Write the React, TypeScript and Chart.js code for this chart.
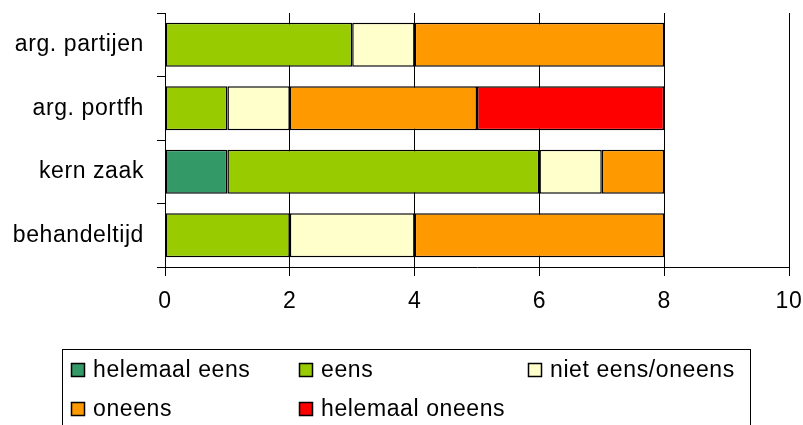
import React, { useEffect, useRef } from "react";
import { Chart, registerables } from "chart.js";

Chart.register(...registerables);

const categories = ["arg. partijen", "arg. portfh", "kern zaak", "behandeltijd"];
const seriesNames = ["helemaal eens", "eens", "niet eens/oneens", "oneens", "helemaal oneens"];
const seriesColors = ["#339966", "#99CC00", "#FFFFCC", "#FF9900", "#FF0000"];
const helemaalEens = [0, 0, 1, 0];
const eens = [3, 1, 5, 2];
const nietEensOneens = [1, 1, 1, 2];
const oneens = [4, 3, 1, 4];
const helemaalOneens = [0, 3, 0, 0];
const xTicks = [0, 2, 4, 6, 8, 10];

const FONT = "'Liberation Sans', Arial, sans-serif";
const FONT_SIZE = 23;
const LETTER_SPACING = "0.6px";

const spacingPlugin = {
  id: "spacing",
  beforeDraw(chart: any) {
    chart.ctx.letterSpacing = LETTER_SPACING;
  },
};

const legendPlugin = {
  id: "boxLegend",
  afterDraw(chart: any) {
    const ctx = chart.ctx;
    ctx.save();
    ctx.letterSpacing = LETTER_SPACING;
    ctx.strokeStyle = "#000";
    ctx.lineWidth = 1;
    ctx.strokeRect(62.5, 349.5, 688, 100);
    const cols = [71, 299, 528];
    const rows = [370, 409];
    ctx.font = `${FONT_SIZE}px ${FONT}`;
    ctx.textBaseline = "middle";
    ctx.textAlign = "left";
    chart.data.datasets.forEach((ds: any, i: number) => {
      const x = cols[i % 3];
      const y = rows[Math.floor(i / 3)];
      ctx.fillStyle = ds.backgroundColor;
      ctx.fillRect(x + 0.5, y - 6.5, 13, 13);
      ctx.strokeStyle = "#000";
      ctx.lineWidth = 1.5;
      ctx.strokeRect(x + 0.5, y - 6.5, 13, 13);
      ctx.fillStyle = "#000";
      ctx.fillText(ds.label, x + 22, y + 1);
    });
    ctx.restore();
  },
};

export default function App() {
  const ref = useRef<HTMLCanvasElement | null>(null);
  useEffect(() => {
    document.body.style.margin = "0";
    const values = [helemaalEens, eens, nietEensOneens, oneens, helemaalOneens];
    const chart = new Chart(ref.current as HTMLCanvasElement, {
      type: "bar",
      data: {
        labels: categories,
        datasets: seriesNames.map((name, i) => ({
          label: name,
          data: values[i],
          backgroundColor: seriesColors[i],
          borderColor: "#000",
          borderWidth: 1.5,
          borderSkipped: false,
          inflateAmount: 0,
          barPercentage: 0.69,
          categoryPercentage: 1,
        })),
      },
      options: {
        indexAxis: "y",
        animation: false,
        responsive: false,
        layout: { padding: { top: 13, right: 14, left: 0, bottom: 0 } },
        plugins: { legend: { display: false }, tooltip: { enabled: false } },
        scales: {
          x: {
            stacked: true,
            min: 0,
            max: 10,
            afterBuildTicks: (scale: any) => {
              scale.ticks = xTicks.map((v) => ({ value: v }));
            },
            afterFit: (scale: any) => {
              scale.height = 158;
              scale.paddingLeft = 0;
              scale.paddingRight = 0;
            },
            grid: { color: "#000", lineWidth: 1, tickLength: 9, drawOnChartArea: true },
            border: { color: "#000", width: 1 },
            ticks: { color: "#000", font: { family: FONT, size: FONT_SIZE }, padding: 12, maxRotation: 0 },
          },
          y: {
            stacked: true,
            afterFit: (scale: any) => {
              scale.width = 165;
              scale.paddingTop = 0;
              scale.paddingBottom = 0;
            },
            grid: { color: "#000", lineWidth: 1, tickLength: 8, drawOnChartArea: false, offset: true },
            border: { color: "#000", width: 1 },
            ticks: { color: "#000", font: { family: FONT, size: FONT_SIZE }, padding: 13 },
          },
        },
      },
      plugins: [spacingPlugin, legendPlugin],
    });
    return () => chart.destroy();
  }, []);
  return (
    <div style={{ width: 803, height: 425, background: "#fff" }}>
      <canvas ref={ref} width={803} height={425} style={{ display: "block" }} />
    </div>
  );
}
